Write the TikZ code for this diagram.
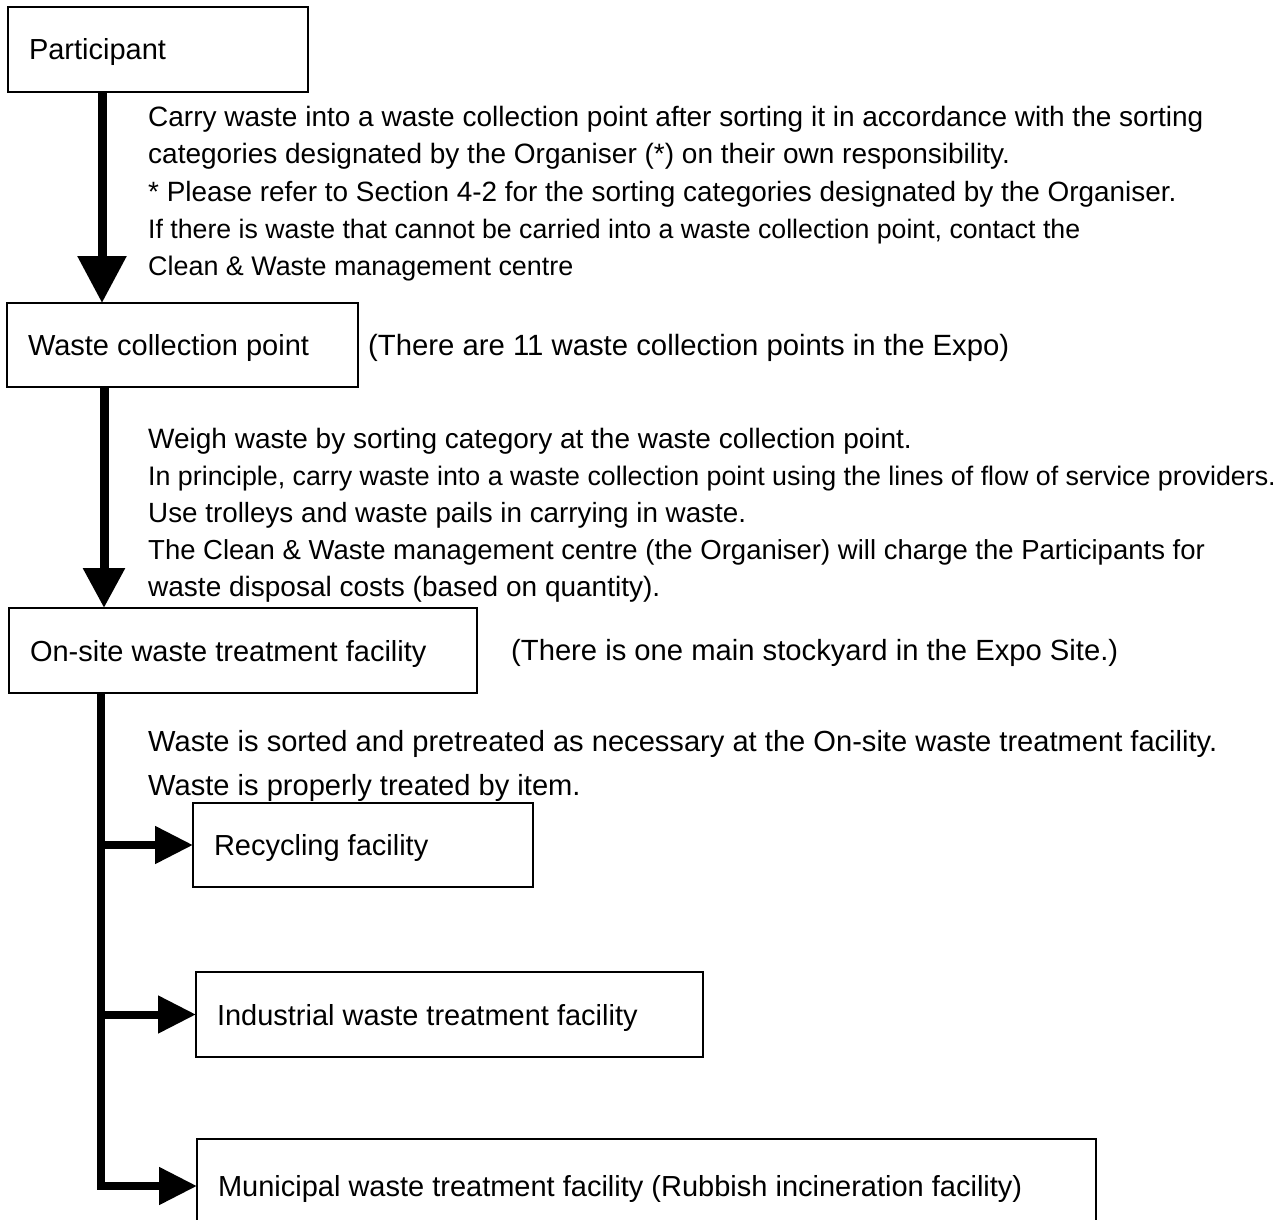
\documentclass[tikz,border=0pt]{standalone}
\usepackage{fontspec}
\setmainfont{Liberation Sans}
\usetikzlibrary{arrows.meta}
\begin{document}
\begin{tikzpicture}[x=1pt,y=-1pt,
  box/.style={draw=black, line width=1.3pt, anchor=north west, inner xsep=21pt, inner ysep=0pt, outer sep=0pt, align=flush left, text height=27pt, text depth=6pt, font=\fontsize{29}{37}\selectfont},
  txt/.style={anchor=base west, inner sep=0pt, font=\fontsize{#1}{37}\selectfont},
  txt/.default=28,
  arrbig/.style={line width=9pt, -{Triangle[length=#1,width=#1]}},
  arrsmall/.style={line width=8pt, -{Triangle[length=38pt,width=36pt]}}]
\useasboundingbox (0,0) rectangle (1280,1220);

\node[box, text width=258pt, minimum width=300pt, minimum height=85pt] (P) at (8,7) {Participant};
\node[box, text width=309pt, minimum width=351pt, minimum height=84pt] (W) at (7,303) {Waste collection point};
\node[box, text width=426pt, minimum width=468pt, minimum height=85pt] (O) at (9,608) {On-site waste treatment facility};
\node[box, text width=298pt, minimum width=340pt, minimum height=84pt] (R) at (193,803) {Recycling facility};
\node[box, text width=465pt, minimum width=507pt, minimum height=85pt] (I) at (196,972) {Industrial waste treatment facility};
\node[box, text width=857pt, minimum width=899pt, minimum height=94pt] (M) at (197,1139) {Municipal waste treatment facility (Rubbish incineration facility)};

\node[txt] (a1) at (148,127) {Carry waste into a waste collection point after sorting it in accordance with the sorting};
\node[txt] (a2) at (148,164) {categories designated by the Organiser (*) on their own responsibility.};
\node[txt=27.9] (a3) at (148,201) {* Please refer to Section 4-2 for the sorting categories designated by the Organiser.};
\node[txt=26.7] (a4) at (148,238) {If there is waste that cannot be carried into a waste collection point, contact the};
\node[txt=26.9] (a5) at (148,275) {Clean \& Waste management centre};

\node[txt=29.3] (n1) at (368,355) {(There are 11 waste collection points in the Expo)};

\node[txt] (b1) at (148,448) {Weigh waste by sorting category at the waste collection point.};
\node[txt=26.8] (b2) at (148,485) {In principle, carry waste into a waste collection point using the lines of flow of service providers.};
\node[txt=27.8] (b3) at (148,522) {Use trolleys and waste pails in carrying in waste.};
\node[txt=27.5] (b4) at (148,559) {The Clean \& Waste management centre (the Organiser) will charge the Participants for};
\node[txt] (b5) at (148,596) {waste disposal costs (based on quantity).};

\node[txt=29.2] (n2) at (511,660) {(There is one main stockyard in the Expo Site.)};

\node[txt=29.1] (c1) at (148,751) {Waste is sorted and pretreated as necessary at the On-site waste treatment facility.};
\node[txt=29.1] (c2) at (148,795) {Waste is properly treated by item.};

\coordinate (x1) at (102,0);
\coordinate (x2) at (104,0);
\coordinate (x3) at (101,0);

\draw[arrbig=47pt] (P.south -| x1) -- (W.north -| x1);
\draw[arrbig=40pt] (W.south -| x2) -- (O.north -| x2);
\draw[arrsmall] (O.south -| x3) |- (M.west);
\draw[arrsmall] (R.west -| x3) -- (R.west);
\draw[arrsmall] (I.west -| x3) -- (I.west);
\end{tikzpicture}
\end{document}
